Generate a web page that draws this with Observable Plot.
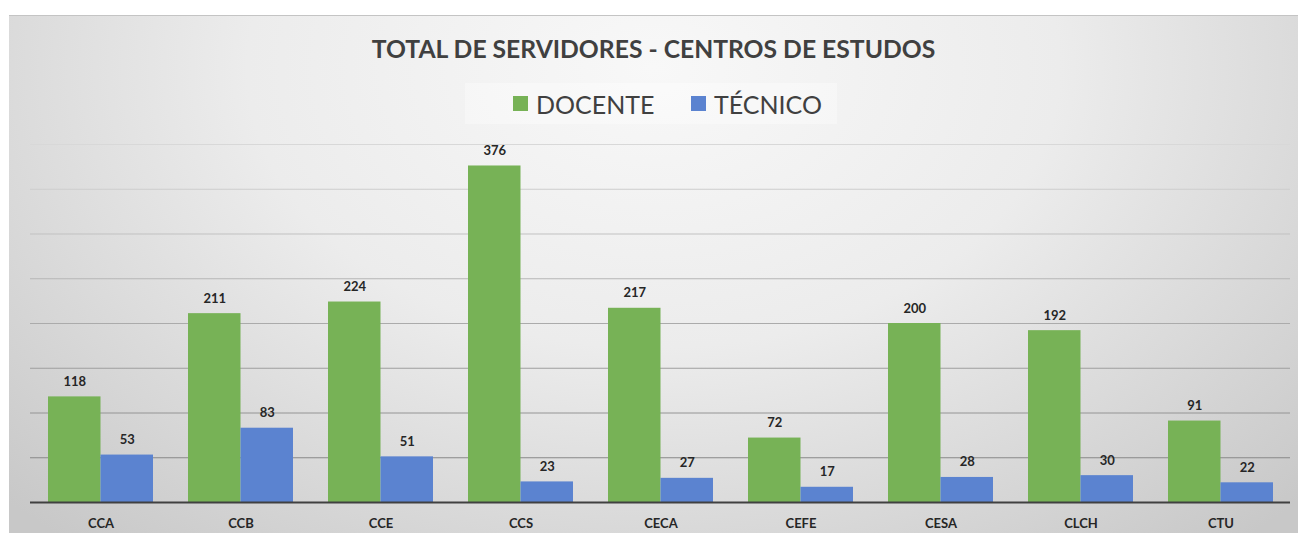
<!DOCTYPE html>
<html>
<head>
<meta charset="utf-8">
<script src="https://cdn.jsdelivr.net/npm/d3@7"></script>
<script src="https://cdn.jsdelivr.net/npm/@observablehq/plot@0.6"></script>
<style>
  html, body { margin: 0; padding: 0; background: #ffffff; width: 1298px; height: 533px; overflow: hidden; }
  #chart {
    position: absolute; left: 9px; top: 15px; width: 1289px; height: 518px;
    background: radial-gradient(ellipse 70% 120% at 50% 10%, #f8f8f8 0%, #ececec 45%, #c8c8c8 100%);
    border-top: 1px solid #c4c4c4;
    font-family: Lato, "Open Sans", sans-serif;
  }
  #title {
    position: absolute; left: 0; width: 100%; top: 20px; text-align: center;
    font-size: 24.7px; font-weight: 700; color: #404040; line-height: 26px;
  }
  #legend {
    position: absolute; left: 456px; top: 67px; width: 372px; height: 41px;
    background: rgba(255,255,255,0.35);
    font-size: 25px; color: #404040;
  }
  .item { position: absolute; top: 0; height: 41px; display: flex; align-items: center; white-space: nowrap; }
  .sw { width: 15px; height: 15px; margin-right: 8px; }
  #plot { position: absolute; left: 0; top: 110px; }
</style>
</head>
<body>
<div id="chart">
  <div id="title"></div>
  <div id="legend"></div>
  <div id="plot"></div>
</div>
<script>
const categories = ["CCA", "CCB", "CCE", "CCS", "CECA", "CEFE", "CESA", "CLCH", "CTU"];
const docente = [118, 211, 224, 376, 217, 72, 200, 192, 91];
const tecnico = [53, 83, 51, 23, 27, 17, 28, 30, 22];
const seriesNames = ["DOCENTE", "TÉCNICO"];
const seriesColors = ["#77b256", "#5b83d0"];
const yTicks = [50, 100, 150, 200, 250, 300, 350, 400];
const titleText = "TOTAL DE SERVIDORES - CENTROS DE ESTUDOS";

document.getElementById("title").textContent = titleText;
const legend = document.getElementById("legend");
const legendLefts = [48, 226];
seriesNames.forEach((s, i) => {
  const it = document.createElement("div");
  it.className = "item";
  it.style.left = legendLefts[i] + "px";
  const sw = document.createElement("div");
  sw.className = "sw";
  sw.style.background = seriesColors[i];
  const t = document.createElement("span");
  t.textContent = s;
  it.appendChild(sw); it.appendChild(t);
  legend.appendChild(it);
});

const rows = [];
categories.forEach((c, i) => {
  rows.push({category: c, series: seriesNames[0], value: docente[i]});
  rows.push({category: c, series: seriesNames[1], value: tecnico[i]});
});

const width = 1289, height = 408;
const marginLeft = 21, marginRight = 8, marginTop = 18, marginBottom = 32;
const pad = 0.25;
const step = (width - marginLeft - marginRight) / categories.length;
const bw = step * (1 - pad);
const half = bw / 2;

const gridColor = d3.interpolateRgb("#7d7d7d", "#d8d8d8");

const chart = Plot.plot({
  width, height, marginLeft, marginRight, marginTop, marginBottom,
  style: {background: "transparent", fontFamily: "Lato, 'Open Sans', sans-serif"},
  x: {domain: categories, paddingInner: pad, paddingOuter: pad / 2, label: null},
  y: {domain: [0, 400], label: null, axis: null},
  color: {domain: seriesNames, range: seriesColors},
  marks: [
    Plot.ruleY(yTicks, {stroke: d => gridColor(d / 400), strokeWidth: 1}),
    Plot.barY(rows.filter(d => d.series === seriesNames[0]), {x: "category", y: "value", fill: "series", insetRight: half}),
    Plot.barY(rows.filter(d => d.series === seriesNames[1]), {x: "category", y: "value", fill: "series", insetLeft: half}),
    Plot.ruleY([0], {stroke: "#404040", strokeWidth: 2}),
    Plot.text(rows.filter(d => d.series === seriesNames[0]), {x: "category", y: "value", text: d => String(d.value), dx: -half / 2, dy: -11, lineAnchor: "bottom", fontSize: 13, fontWeight: 700, fill: "#262626"}),
    Plot.text(rows.filter(d => d.series === seriesNames[1]), {x: "category", y: "value", text: d => String(d.value), dx: half / 2, dy: -11, lineAnchor: "bottom", fontSize: 13, fontWeight: 700, fill: "#262626"}),
    Plot.axisX({tickSize: 0, tickPadding: 16, fontSize: 13, fontWeight: 700, fill: "#262626", label: null})
  ]
});
chart.querySelectorAll("g[aria-label='x-axis tick label']").forEach(el => { el.style.fontWeight = "700"; el.style.fontSize = "13px"; });
document.getElementById("plot").appendChild(chart);
</script>
</body>
</html>
